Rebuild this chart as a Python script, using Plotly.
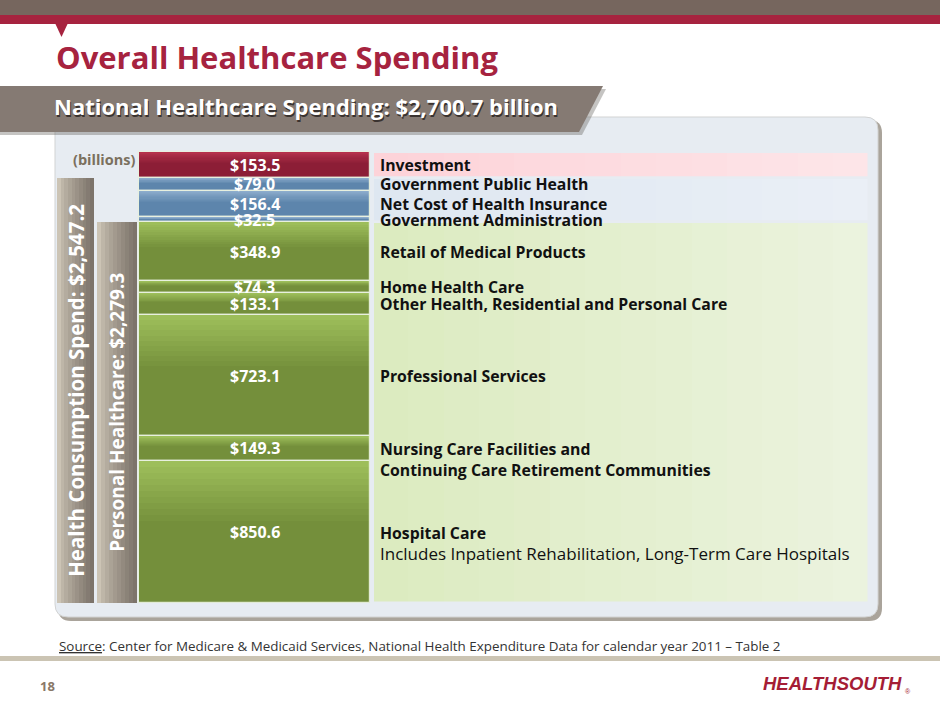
import plotly.graph_objects as go
import numpy as np

# ---------------- data ----------------
categories = [
    "Hospital Care",
    "Nursing Care Facilities and Continuing Care Retirement Communities",
    "Professional Services",
    "Other Health, Residential and Personal Care",
    "Home Health Care",
    "Retail of Medical Products",
    "Government Administration",
    "Net Cost of Health Insurance",
    "Government Public Health",
    "Investment",
]
values = [850.6, 149.3, 723.1, 133.1, 74.3, 348.9, 32.5, 156.4, 79.0, 153.5]
groups = ["personal"] * 6 + ["gov"] * 3 + ["invest"]
label_text = [
    "<b>Hospital Care</b><br><span style='font-size:17px'>Includes Inpatient Rehabilitation, Long-Term Care Hospitals</span>",
    "<b>Nursing Care Facilities and<br>Continuing Care Retirement Communities</b>",
    "<b>Professional Services</b>",
    "<b>Other Health, Residential and Personal Care</b>",
    "<b>Home Health Care</b>",
    "<b>Retail of Medical Products</b>",
    "<b>Government Administration</b>",
    "<b>Net Cost of Health Insurance</b>",
    "<b>Government Public Health</b>",
    "<b>Investment</b>",
]
group_order = ["personal", "gov", "invest"]

title_text = "Overall Healthcare Spending"
banner_text = "National Healthcare Spending: $2,700.7 billion"
source_text = "Source"
source_rest = ": Center for Medicare & Medicaid Services, National Health Expenditure Data for calendar year 2011 – Table 2"

# ---------------- layout / style constants ----------------
W, H = 940, 705
PX_ZERO, PX_TOP = 603, 152
FONT = "Open Sans"
CRIMSON = "#a6233f"
seg_dark = {"invest": (140, 30, 54), "gov": (93, 133, 172), "personal": (116, 143, 59)}
seg_light = {"invest": (180, 50, 75), "gov": (140, 172, 204), "personal": (157, 190, 90)}
band_left = {"invest": (253, 211, 217), "gov": (222, 231, 241), "personal": (220, 235, 192)}
band_right = {"invest": (253, 229, 232), "gov": (234, 239, 246), "personal": (235, 243, 222)}
gray_left, gray_right = (204, 196, 181), (125, 116, 107)
PANEL = "#e7ecf2"

vals = np.array(values)
bases = np.concatenate([[0], np.cumsum(vals)[:-1]])
total = vals.sum()
k = (PX_ZERO - PX_TOP) / total
y_range = [-(H - PX_ZERO) / k, PX_ZERO / k]

grp_sum = {g: vals[[i for i, gg in enumerate(groups) if gg == g]].sum() for g in group_order}
grp_base = {}
acc = 0.0
for g in group_order:
    grp_base[g] = acc
    acc += grp_sum[g]
personal_total = grp_sum["personal"]
consumption_total = grp_sum["personal"] + grp_sum["gov"]

MAIN_X, MAIN_W = 254.5, 231
BAND_X0, BAND_X1 = 373, 869
GB = [(57, 94), (97, 137)]


def rgb(c):
    return "rgb(%d,%d,%d)" % tuple(int(round(v)) for v in c)


def mix(a, b, t):
    return tuple(a[i] + (b[i] - a[i]) * t for i in range(3))


fig = go.Figure()

# label bands: horizontal gradient strips
NS = 14
sw = (BAND_X1 - BAND_X0) / NS
for s in range(NS):
    t = s / (NS - 1)
    fig.add_trace(go.Bar(
        x=[BAND_X0 + sw * (s + 0.5)] * 3, y=[grp_sum[g] for g in group_order],
        base=[grp_base[g] for g in group_order], width=[sw + 0.6] * 3,
        marker=dict(color=[rgb(mix(band_left[g], band_right[g], t)) for g in group_order], line=dict(width=0)),
        hoverinfo="skip", showlegend=False))
fig.add_trace(go.Bar(
    x=[(BAND_X0 + BAND_X1) / 2] * 3, y=[grp_sum[g] for g in group_order],
    base=[grp_base[g] for g in group_order], width=[BAND_X1 - BAND_X0] * 3,
    marker=dict(color="rgba(0,0,0,0)", line=dict(color=PANEL, width=2.5)),
    hoverinfo="skip", showlegend=False))

# gray total bars with horizontal gradient
gray_vals = [consumption_total, personal_total]
NG = 10
for (x0, x1), gv in zip(GB, gray_vals):
    w = (x1 - x0) / NG
    for s in range(NG):
        t = s / (NG - 1)
        fig.add_trace(go.Bar(x=[x0 + w * (s + 0.5)], y=[gv], base=[0], width=[w + 0.4],
                             marker=dict(color=rgb(mix(gray_left, gray_right, t ** 0.8)), line=dict(width=0)),
                             hoverinfo="skip", showlegend=False))

# main stacked segments
fig.add_trace(go.Bar(
    x=[MAIN_X] * len(vals), y=vals, base=bases, width=[MAIN_W] * len(vals),
    marker=dict(color=[rgb(seg_dark[g]) for g in groups], line=dict(width=0)),
    hovertext=categories, hoverinfo="text", showlegend=False))
NV = 10
for j in range(NV):
    f = 0.42 * (1 - j / NV)
    t = (j + 1) / NV
    fig.add_trace(go.Bar(
        x=[MAIN_X] * len(vals), y=vals * f, base=bases + vals * (1 - f), width=[MAIN_W] * len(vals),
        marker=dict(color=[rgb(mix(seg_dark[g], seg_light[g], t)) for g in groups], line=dict(width=0)),
        hoverinfo="skip", showlegend=False))
fig.add_trace(go.Bar(
    x=[MAIN_X] * len(vals), y=vals, base=bases, width=[MAIN_W] * len(vals),
    marker=dict(color="rgba(0,0,0,0)", line=dict(color="rgba(232,240,222,0.95)", width=1.2)),
    hoverinfo="skip", showlegend=False))

shapes = []
ann = []


def rrect(x0, y0, x1, y1, r):
    return (f"M{x0+r},{y0} L{x1-r},{y0} Q{x1},{y0} {x1},{y0+r} L{x1},{y1-r} "
            f"Q{x1},{y1} {x1-r},{y1} L{x0+r},{y1} Q{x0},{y1} {x0},{y1-r} "
            f"L{x0},{y0+r} Q{x0},{y0} {x0+r},{y0} Z")


shapes.append(dict(type="path", path=rrect(58, 120, 882, 621, 13), xref="x", yref="y2",
                   fillcolor="#aaa49b", line=dict(width=0), layer="below"))
shapes.append(dict(type="path", path=rrect(55, 117, 878, 617, 13), xref="x", yref="y2",
                   fillcolor=PANEL, line=dict(color="#d2d3d3", width=1), layer="below"))
shapes.append(dict(type="rect", x0=0, x1=W, y0=0, y1=15, xref="x", yref="y2",
                   fillcolor="#76665e", line=dict(width=0), layer="below"))
shapes.append(dict(type="rect", x0=0, x1=W, y0=15, y1=24, xref="x", yref="y2",
                   fillcolor=CRIMSON, line=dict(width=0), layer="below"))
shapes.append(dict(type="path", path="M55,23 L68,23 L61.5,37 Z", xref="x", yref="y2",
                   fillcolor=CRIMSON, line=dict(width=0), layer="below"))
shapes.append(dict(type="path", path="M0,89 L606,89 L582,135 L0,135 Z", xref="x", yref="y2",
                   fillcolor="rgba(90,85,80,0.35)", line=dict(width=0), layer="below"))
shapes.append(dict(type="path", path="M0,86 L603,86 L579,132 L0,132 Z", xref="x", yref="y2",
                   fillcolor="#857a73", line=dict(width=0), layer="below"))
shapes.append(dict(type="rect", x0=0, x1=W, y0=656, y1=661, xref="x", yref="y2",
                   fillcolor="#cbc4b3", line=dict(width=0), layer="below"))

ann.append(dict(x=54, y=57, xref="x", yref="y2", text=f"<b>{title_text}</b>", showarrow=False,
                xanchor="left", yanchor="middle", font=dict(family=FONT, size=31, color=CRIMSON)))
ann.append(dict(x=53, y=108, xref="x", yref="y2", text=f"<b>{banner_text}</b>", showarrow=False,
                xanchor="left", yanchor="middle", font=dict(family=FONT, size=22, color="#3a3330")))
ann.append(dict(x=52, y=106, xref="x", yref="y2", text=f"<b>{banner_text}</b>", showarrow=False,
                xanchor="left", yanchor="middle", font=dict(family=FONT, size=22, color="white")))
ann.append(dict(x=71, y=159, xref="x", yref="y2", text="<b>(billions)</b>", showarrow=False,
                xanchor="left", yanchor="middle", font=dict(family=FONT, size=14.5, color="#7b705e")))

for i, v in enumerate(vals):
    mid = bases[i] + v / 2
    ann.append(dict(x=MAIN_X, y=mid, xref="x", yref="y", text=f"<b>${v:,.1f}</b>", showarrow=False,
                    xanchor="center", yanchor="middle", font=dict(family=FONT, size=16, color="white")))
    multi = "<br>" in label_text[i]
    ann.append(dict(x=378, y=mid, xref="x", yref="y", text=label_text[i], showarrow=False,
                    xanchor="left", yanchor="top" if multi else "middle", yshift=12 if multi else 0,
                    align="left", font=dict(family=FONT, size=15.8, color="#111111")))

ann.append(dict(x=(GB[0][0] + GB[0][1]) / 2 + 1, y=consumption_total / 2, xref="x", yref="y", textangle=-90,
                text=f"<b>Health Consumption Spend: ${consumption_total:,.1f}</b>", showarrow=False,
                font=dict(family=FONT, size=20.5, color="white")))
ann.append(dict(x=(GB[1][0] + GB[1][1]) / 2, y=personal_total / 2, xref="x", yref="y", textangle=-90,
                text=f"<b>Personal Healthcare: ${personal_total:,.1f}</b>", showarrow=False,
                font=dict(family=FONT, size=19, color="white")))

ann.append(dict(x=57, y=646, xref="x", yref="y2",
                text=f"<span style='text-decoration:underline'>{source_text}</span>{source_rest}",
                showarrow=False, xanchor="left", yanchor="middle",
                font=dict(family=FONT, size=13.4, color="#333333")))
ann.append(dict(x=38, y=686, xref="x", yref="y2", text="<b>18</b>", showarrow=False,
                xanchor="left", yanchor="middle", font=dict(family=FONT, size=13, color="#8a7868")))
ann.append(dict(x=904, y=683, xref="x", yref="y2", text="<b><i>HEALTHSOUTH</i></b>",
                showarrow=False, xanchor="right", yanchor="middle",
                font=dict(family="Liberation Sans", size=18.5, color="#a51d35")))
ann.append(dict(x=903, y=691, xref="x", yref="y2", text="®",
                showarrow=False, xanchor="left", yanchor="middle",
                font=dict(family="Liberation Sans", size=7, color="#a51d35")))

fig.update_layout(
    width=W, height=H, margin=dict(l=0, r=0, t=0, b=0),
    paper_bgcolor="white", plot_bgcolor="rgba(0,0,0,0)",
    barmode="overlay", bargap=0,
    xaxis=dict(range=[0, W], visible=False, fixedrange=True),
    yaxis=dict(range=y_range, visible=False, fixedrange=True),
    yaxis2=dict(range=[H, 0], overlaying="y", visible=False, fixedrange=True),
    shapes=shapes, annotations=ann, showlegend=False,
)
fig.add_trace(go.Scatter(x=[1], y=[1], yaxis="y2", mode="markers", marker=dict(opacity=0),
                         hoverinfo="skip", showlegend=False))

fig.write_html("out.html", config={"displayModeBar": False},
               post_script="document.body.style.margin='0';document.body.style.padding='0';")
